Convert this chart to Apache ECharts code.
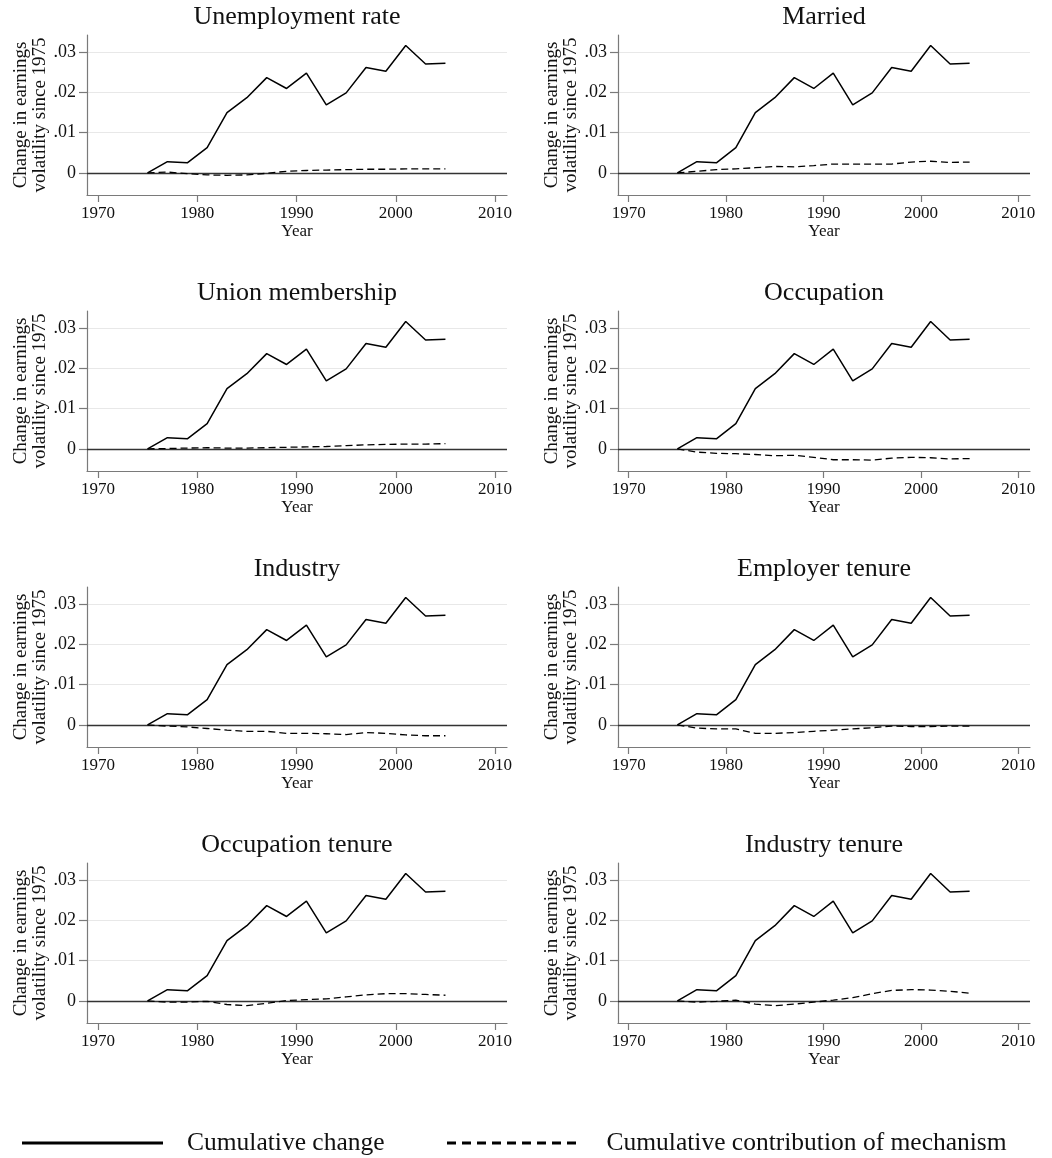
<!DOCTYPE html>
<html>
<head>
<meta charset="utf-8">
<script src="https://cdn.jsdelivr.net/npm/echarts@6/dist/echarts.min.js"></script>
<style>
  html, body { margin: 0; padding: 0; background: #fff; }
  #chart { width: 1052px; height: 1158px; }
</style>
</head>
<body>
<div id="chart"></div>
<script>
// Survey years (every other year, 1975-2005)
const years = [1975, 1977, 1979, 1981, 1983, 1985, 1987, 1989, 1991, 1993, 1995, 1997, 1999, 2001, 2003, 2005];

// Cumulative change in earnings volatility since 1975 (same in every panel)
const cumulativeChange = [0, 0.0028, 0.0025, 0.0063, 0.0150, 0.0187, 0.0237, 0.0210, 0.0248, 0.0169, 0.0199, 0.0262, 0.0253, 0.0317, 0.0271, 0.0273];

// Cumulative contribution of each mechanism
const unemploymentRate = [0, 0.0002, -0.0002, -0.0005, -0.0006, -0.0005, -0.0001, 0.0004, 0.0006, 0.0007, 0.0008, 0.0009, 0.0009, 0.0010, 0.0010, 0.0010];
const married = [0, 0.0004, 0.0008, 0.0010, 0.0013, 0.0016, 0.0015, 0.0018, 0.0022, 0.0022, 0.0022, 0.0022, 0.0027, 0.0029, 0.0026, 0.0027];
const unionMembership = [0, 0.0001, 0.0002, 0.0003, 0.0002, 0.0002, 0.0003, 0.0004, 0.0005, 0.0006, 0.0008, 0.0010, 0.0011, 0.0012, 0.0012, 0.0013];
const occupation = [0, -0.0008, -0.0011, -0.0012, -0.0014, -0.0017, -0.0016, -0.0021, -0.0027, -0.0027, -0.0028, -0.0023, -0.0021, -0.0022, -0.0025, -0.0024];
const industry = [0, -0.0003, -0.0005, -0.0009, -0.0013, -0.0016, -0.0016, -0.0021, -0.0021, -0.0022, -0.0024, -0.0019, -0.0021, -0.0025, -0.0027, -0.0027];
const employerTenure = [0, -0.0008, -0.0010, -0.0010, -0.0021, -0.0021, -0.0019, -0.0016, -0.0013, -0.0010, -0.0007, -0.0003, -0.0004, -0.0004, -0.0003, -0.0003];
const occupationTenure = [0, -0.0003, -0.0003, -0.0001, -0.0009, -0.0012, -0.0006, 0.0001, 0.0003, 0.0005, 0.0010, 0.0015, 0.0018, 0.0018, 0.0016, 0.0014];
const industryTenure = [0, -0.0003, -0.0001, 0.0002, -0.0008, -0.0012, -0.0008, -0.0003, 0.0002, 0.0008, 0.0018, 0.0026, 0.0028, 0.0027, 0.0024, 0.0019];

const panelTitles = ['Unemployment rate', 'Married', 'Union membership', 'Occupation',
                     'Industry', 'Employer tenure', 'Occupation tenure', 'Industry tenure'];
const mechanisms = [unemploymentRate, married, unionMembership, occupation,
                    industry, employerTenure, occupationTenure, industryTenure];

const xTicks = [1970, 1980, 1990, 2000, 2010];
const yTicks = [0, 0.01, 0.02, 0.03];

const seriesNames = ['Cumulative change', 'Cumulative contribution of mechanism'];
const yAxisTitle = 'Change in earnings\nvolatility since 1975';
const xAxisTitle = 'Year';

const FONT = '"Liberation Serif", "Times New Roman", serif';
const AXIS_GRAY = '#7a7a7a';

function pairs(values) {
  return years.map((y, i) => [y, values[i]]);
}

function fmtY(v) {
  if (Math.abs(v) < 1e-12) return '0';
  return v.toFixed(2).replace(/^0/, '');
}

// Legend key for the dashed series: a row of short bars
function dashedKeyPath(count, dash, gap, thick) {
  let d = 'path://';
  for (let k = 0; k < count; k++) {
    const x0 = k * (dash + gap);
    d += 'M' + x0 + ',0h' + dash + 'v' + thick + 'h-' + dash + 'z';
  }
  return d;
}

const grids = [], xAxes = [], yAxes = [], series = [], titles = [];

panelTitles.forEach((name, i) => {
  const col = i % 2, row = Math.floor(i / 2);
  const left = col === 0 ? 87 : 618;
  const width = col === 0 ? 420 : 412;
  const top = 35 + 276 * row;
  const height = 160;
  grids.push({ left, top, width, height, containLabel: false });

  titles.push({
    text: name,
    left: left + width / 2,
    top: top - 31,
    textAlign: 'center',
    padding: 0,
    textStyle: { fontFamily: FONT, fontSize: 26, fontWeight: 'normal', color: '#111' }
  });

  xAxes.push({
    type: 'value', gridIndex: i, min: 1968.9, max: 2011.2,
    name: xAxisTitle, nameLocation: 'middle', nameGap: 25,
    nameTextStyle: { fontFamily: FONT, fontSize: 17, color: '#111', lineHeight: 17 },
    axisLine: { show: true, onZero: false, lineStyle: { color: AXIS_GRAY, width: 1.2 } },
    axisTick: { show: true, length: 7, customValues: xTicks, lineStyle: { color: AXIS_GRAY, width: 1.2 } },
    axisLabel: { customValues: xTicks, margin: 10, fontFamily: FONT, fontSize: 17, color: '#111',
                 formatter: v => String(Math.round(v)) },
    splitLine: { show: false }
  });

  yAxes.push({
    type: 'value', gridIndex: i, min: -0.0055, max: 0.0343,
    name: yAxisTitle, nameLocation: 'middle', nameGap: 33,
    nameTextStyle: { fontFamily: FONT, fontSize: 19, color: '#111', lineHeight: 19 },
    axisLine: { show: true, onZero: false, lineStyle: { color: AXIS_GRAY, width: 1.2 } },
    axisTick: { show: true, length: 8, customValues: yTicks, lineStyle: { color: AXIS_GRAY, width: 1.2 } },
    axisLabel: { customValues: yTicks, margin: 11, fontFamily: FONT, fontSize: 18, color: '#111', formatter: fmtY },
    splitLine: { show: true, lineStyle: { color: '#e8e8e8', width: 1.2 } }
  });

  series.push({
    name: seriesNames[0], type: 'line', xAxisIndex: i, yAxisIndex: i,
    data: pairs(cumulativeChange), symbol: 'none', showSymbol: false,
    lineStyle: { color: '#000', width: 1.5 }, itemStyle: { color: '#000' },
    z: 3,
    markLine: {
      silent: true, symbol: 'none', label: { show: false },
      lineStyle: { color: '#333', width: 1.4, type: 'solid' },
      data: [{ yAxis: 0 }],
      z: 2
    }
  });
  series.push({
    name: seriesNames[1], type: 'line', xAxisIndex: i, yAxisIndex: i,
    data: pairs(mechanisms[i]), symbol: 'none', showSymbol: false,
    lineStyle: { color: '#000', width: 1.3, type: [7, 4] }, itemStyle: { color: '#000' },
    z: 3
  });
});

const chart = echarts.init(document.getElementById('chart'), null, { renderer: 'canvas' });
chart.setOption({
  animation: false,
  backgroundColor: '#fff',
  title: titles,
  grid: grids,
  xAxis: xAxes,
  yAxis: yAxes,
  series: series,
  legend: [
    {
      data: [seriesNames[0]], left: 22, top: 1130, padding: 0,
      icon: 'rect', itemWidth: 141, itemHeight: 3, selectedMode: false,
      itemStyle: { color: '#000' },
      textStyle: { fontFamily: FONT, fontSize: 25.5, color: '#111', padding: [0, 0, 0, 19] }
    },
    {
      data: [seriesNames[1]], left: 447, top: 1130, padding: 0,
      icon: dashedKeyPath(9, 9, 6, 3), itemWidth: 152, itemHeight: 3, selectedMode: false,
      itemStyle: { color: '#000' },
      textStyle: { fontFamily: FONT, fontSize: 25.5, color: '#111', padding: [0, 0, 0, 14] }
    }
  ]
});
</script>
</body>
</html>
